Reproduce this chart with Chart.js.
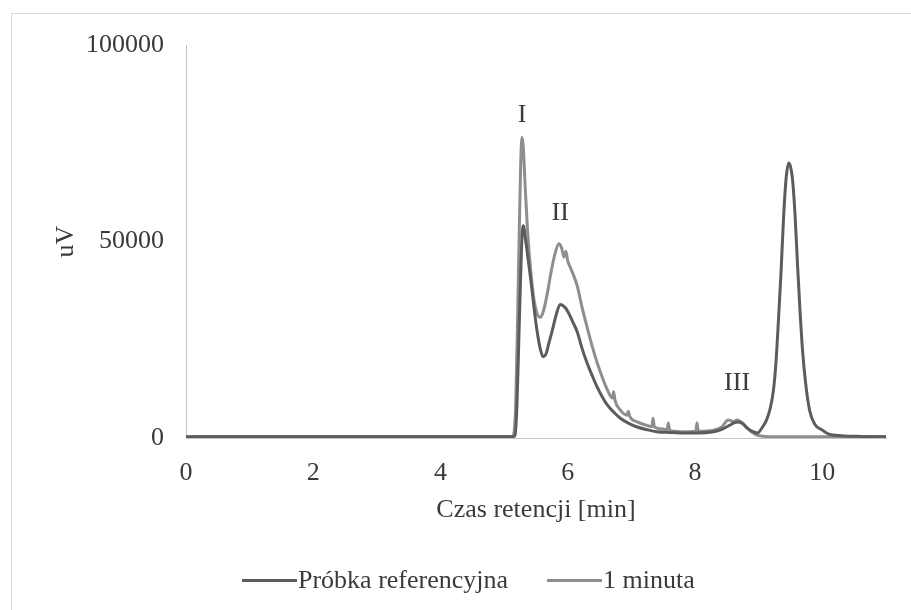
<!DOCTYPE html>
<html>
<head>
<meta charset="utf-8">
<title>Chromatogram</title>
<script src="https://cdn.jsdelivr.net/npm/chart.js@4.4.1/dist/chart.umd.min.js"></script>
<style>
  html, body { margin: 0; padding: 0; background: #fff; overflow: hidden; }
  #wrap { position: relative; width: 911px; height: 610px; }
  #frame { position: absolute; left: 11px; top: 13px; width: 930px; height: 640px;
           border: 1px solid #d9d9d9; box-sizing: border-box; }
  #chart { position: absolute; left: 0; top: 0; }
  #legend { position: absolute; left: 242px; top: 566px; height: 28px; display: flex; align-items: center;
            font: 26px 'Liberation Serif', 'Times New Roman', serif; color: #3a3a3a; white-space: nowrap; }
  #legend .sw { display: inline-block; width: 55px; height: 3px; margin-right: 1px; }
  #legend .item { display: flex; align-items: center; margin-right: 39px; }
</style>
</head>
<body>
<div id="wrap">
  <div id="frame"></div>
  <canvas id="chart" width="911" height="610"></canvas>
  <div id="legend"></div>
</div>
<script>
/* ---- data ---- */
const refTime = [0, 1, 2, 3, 4, 4.6, 5.0, 5.12, 5.17, 5.2, 5.23, 5.26, 5.28, 5.30, 5.34, 5.38, 5.42,
  5.47, 5.52, 5.57, 5.61, 5.66, 5.70, 5.75, 5.82, 5.88, 5.94, 6.0, 6.07, 6.15, 6.22, 6.3, 6.38,
  6.46, 6.54, 6.62, 6.72, 6.82, 6.95, 7.09, 7.25, 7.4, 7.6, 7.77, 8.0, 8.29, 8.42, 8.55, 8.62,
  8.68, 8.75, 8.82, 8.9, 8.98, 9.06, 9.12, 9.18, 9.23, 9.27, 9.31, 9.35, 9.39, 9.43, 9.47, 9.50,
  9.53, 9.57, 9.61, 9.65, 9.69, 9.74, 9.80, 9.88, 10.0, 10.1, 10.3, 10.6, 11.0];
const refValues = [300, 300, 300, 300, 300, 300, 300, 300, 600, 8000, 25000, 42000, 51000, 54000,
  50000, 45000, 40000, 33000, 26900, 22500, 20700, 21500, 24000, 27000, 31500, 34000, 33500, 32200,
  29800, 26900, 23000, 19200, 16000, 13000, 10500, 8400, 6600, 5100, 3800, 2800, 2100, 1600, 1400,
  1300, 1300, 1600, 2200, 3300, 3900, 4100, 3600, 2500, 1700, 1300, 2800, 4500, 7500, 12000, 19000,
  30000, 42000, 56000, 66000, 70000, 69000, 66000, 57000, 44000, 32000, 22000, 13500, 7000, 3500,
  2000, 1000, 600, 400, 300];

const minTime = [0, 1, 2, 3, 4, 4.6, 5.0, 5.12, 5.15, 5.18, 5.21, 5.24, 5.26, 5.28, 5.30, 5.33,
  5.37, 5.42, 5.47, 5.52, 5.57, 5.62, 5.68, 5.74, 5.80, 5.86, 5.90, 5.94, 5.97, 6.0, 6.05, 6.1,
  6.15, 6.22, 6.3, 6.38, 6.46, 6.54, 6.62, 6.70, 6.72, 6.74, 6.82, 6.93, 6.95, 6.97, 7.09, 7.25,
  7.32, 7.34, 7.36, 7.5, 7.56, 7.58, 7.60, 7.77, 7.9, 8.01, 8.03, 8.05, 8.29, 8.42, 8.52, 8.6,
  8.66, 8.75, 8.82, 8.9, 8.98, 9.1, 9.5, 10.0, 10.5, 11.0];
const minValues = [300, 300, 300, 300, 300, 300, 300, 300, 1000, 8000, 30000, 55000, 70000, 76500,
  74000, 64000, 52000, 42000, 35000, 31500, 30700, 32500, 37000, 42500, 47000, 49400, 48500, 46000,
  47500, 45000, 43000, 41000, 38600, 33500, 28400, 23500, 19200, 15500, 12300, 10200, 11800, 9700,
  7200, 5800, 6800, 5600, 4100, 3200, 2900, 5000, 2800, 2300, 2100, 3800, 2000, 1600, 1600, 1700,
  3800, 1700, 2000, 2800, 4600, 4200, 4600, 3800, 2500, 1400, 700, 400, 300, 300, 300, 300];

const seriesNames = ['Próbka referencyjna', '1 minuta'];
const peakNames = ['I', 'II', 'III'];
const peakTime = [5.28, 5.88, 8.66];
const peakLevel = [82200, 57200, 14000];

const xTickStep = 2;
const xMax = 11;
const yTickStep = 50000;
const yMax = 100000;

/* ---- style ---- */
const FONT = "'Liberation Serif', 'Times New Roman', serif";
const TEXT = '#3a3a3a';
const DARK = '#5c5c5c';
const LIGHT = '#8e8e8e';
const AXIS = '#c4c4c4';

const toPoints = (xs, ys) => xs.map((x, i) => ({ x, y: ys[i] }));

const peakLabels = {
  id: 'peakLabels',
  afterDatasetsDraw(chart) {
    const { ctx, scales } = chart;
    ctx.save();
    ctx.fillStyle = TEXT;
    ctx.font = `26px ${FONT}`;
    ctx.textAlign = 'center';
    ctx.textBaseline = 'middle';
    peakNames.forEach((name, i) => {
      ctx.fillText(name, scales.x.getPixelForValue(peakTime[i]), scales.y.getPixelForValue(peakLevel[i]));
    });
    ctx.restore();
  }
};

const chart = new Chart(document.getElementById('chart'), {
  type: 'line',
  data: {
    datasets: [
      {
        label: seriesNames[0],
        data: toPoints(refTime, refValues),
        borderColor: DARK,
        backgroundColor: DARK,
        borderWidth: 3,
        pointRadius: 0,
        cubicInterpolationMode: 'monotone',
      },
      {
        label: seriesNames[1],
        data: toPoints(minTime, minValues),
        borderColor: LIGHT,
        backgroundColor: LIGHT,
        borderWidth: 3,
        pointRadius: 0,
        cubicInterpolationMode: 'monotone',
      },
    ]
  },
  options: {
    responsive: false,
    animation: false,
    layout: { padding: { left: 40, right: 25, top: 45, bottom: 55 } },
    plugins: {
      tooltip: { enabled: false },
      legend: { display: false }
    },
    scales: {
      x: {
        type: 'linear',
        min: 0,
        max: xMax,
        grid: { display: false, drawTicks: false },
        border: { color: AXIS, width: 1 },
        ticks: {
          stepSize: xTickStep,
          includeBounds: false,
          padding: 20,
          color: TEXT,
          font: { family: FONT, size: 26 },
          maxRotation: 0,
        },
        title: {
          display: true,
          text: 'Czas retencji [min]',
          color: TEXT,
          font: { family: FONT, size: 26 },
          padding: { top: 0, bottom: 29 },
        },
        afterFit(scale) { scale.height = 117; }
      },
      y: {
        min: 0,
        max: yMax,
        grid: { display: false, drawTicks: false },
        border: { color: AXIS, width: 1 },
        ticks: {
          stepSize: yTickStep,
          padding: 22,
          color: TEXT,
          font: { family: FONT, size: 26 },
          callback: v => String(v),
        },
        title: {
          display: true,
          text: 'uV',
          color: TEXT,
          font: { family: FONT, size: 26 },
          padding: { top: 11, bottom: 0 },
        },
        afterFit(scale) { scale.width = 146; }
      }
    }
  },
  plugins: [peakLabels]
});

// legend built from the chart's own datasets
const legend = document.getElementById('legend');
chart.data.datasets.forEach(ds => {
  const item = document.createElement('span');
  item.className = 'item';
  const sw = document.createElement('span');
  sw.className = 'sw';
  sw.style.background = ds.borderColor;
  const txt = document.createElement('span');
  txt.textContent = ds.label;
  item.appendChild(sw);
  item.appendChild(txt);
  legend.appendChild(item);
});
</script>
</body>
</html>
